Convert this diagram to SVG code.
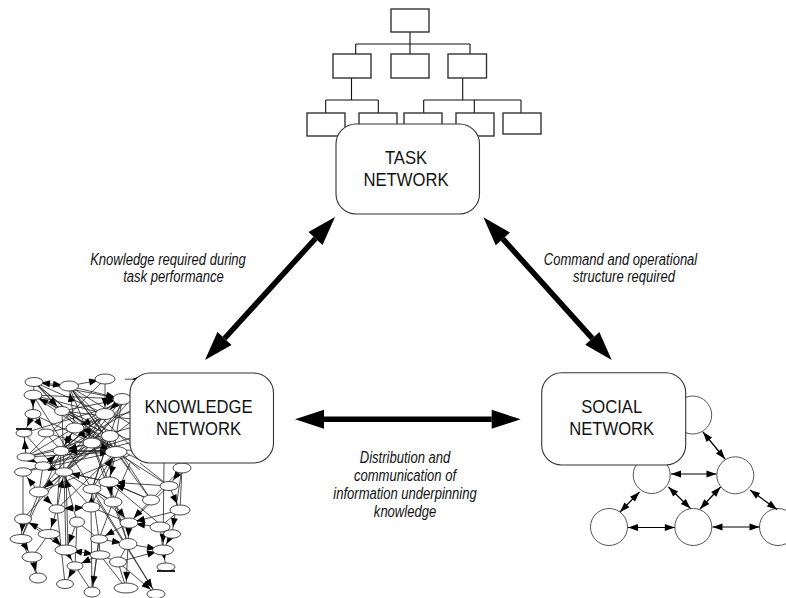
<svg xmlns="http://www.w3.org/2000/svg" width="786" height="598" viewBox="0 0 786 598">
  <defs>
    <style>
      .bg { fill: #ffffff; }
      .tb { fill: #ffffff; stroke: #333; stroke-width: 1.4; }
      .tl { fill: none; stroke: #111; stroke-width: 1.1; }
      .kl { fill: none; stroke: #222; stroke-width: 0.8; }
      .ke { marker-end: url(#ka); }
      .kb { marker-start: url(#ka); marker-end: url(#ka); }
      .ko { fill: #ffffff; stroke: #333; stroke-width: 0.9; }
      .kbar { stroke: #222; stroke-width: 2; }
      .sc { fill: #ffffff; stroke: #555; stroke-width: 1; }
      .sa { fill: none; stroke: #000; stroke-width: 1.2; marker-start: url(#sh); marker-end: url(#sh); }
      .node { fill: #ffffff; stroke: #333; stroke-width: 1.1; }
      .nt { font-family: "Liberation Sans", Arial, sans-serif; font-size: 18.5px; fill: #111; text-anchor: middle; }
      .lb { font-family: "Liberation Sans", Arial, sans-serif; font-size: 16.5px; font-style: italic; fill: #111; text-anchor: middle; }
      .big { fill: none; stroke: #000; stroke-width: 5.5; marker-start: url(#bh); marker-end: url(#bh); }
    </style>
    <!-- heavy head for the main links -->
    <marker id="bh" markerUnits="userSpaceOnUse" markerWidth="30" markerHeight="20" refX="0" refY="9.5" orient="auto-start-reverse" overflow="visible">
      <path d="M0,0 L29,9.5 L0,19 z" fill="#000"/>
    </marker>
    <!-- small head for the social graph -->
    <marker id="sh" markerUnits="userSpaceOnUse" markerWidth="11" markerHeight="8" refX="10" refY="3.5" orient="auto-start-reverse" overflow="visible">
      <path d="M0,0 L10,3.5 L0,7 z" fill="#000"/>
    </marker>
    <!-- head for the knowledge graph, tip set back from the ellipse centre -->
    <marker id="ka" markerUnits="userSpaceOnUse" markerWidth="10" markerHeight="8" refX="16" refY="3.5" orient="auto-start-reverse" overflow="visible">
      <path d="M0,0 L9,3.5 L0,7 z" fill="#000"/>
    </marker>
  </defs>

  <rect class="bg" x="0" y="0" width="786" height="598"/>

  <!-- organisation chart above the task node -->
  <g id="task-tree">
    <path class="tl" d="M410 32V44 M355.7 44H470 M355.7 44V54 M410 44V54 M470 44V54
                        M351.5 78V100 M325.7 100H378.3 M325.7 100V113 M378.3 100V113
                        M462.7 78V100 M423.7 100H521 M423.7 100V113 M474.3 100V113 M521 100V113"/>
    <rect class="tb" x="391" y="9" width="38" height="23"/>
    <rect class="tb" x="333" y="54" width="38" height="24"/>
    <rect class="tb" x="391" y="54" width="38" height="24"/>
    <rect class="tb" x="448" y="54" width="38.5" height="24"/>
    <rect class="tb" x="307" y="113" width="38" height="23"/>
    <rect class="tb" x="359" y="113" width="38" height="23"/>
    <rect class="tb" x="404" y="113" width="38" height="23"/>
    <rect class="tb" x="456" y="113" width="38" height="23"/>
    <rect class="tb" x="503" y="113" width="38" height="21"/>
  </g>

  <!-- semantic network beside the knowledge node -->
  <g id="knowledge-graph">
    <path class="kl" d="M34 382L122 399 M34 382L105 414 M34 382L92 443 M34 382L116 452
      M69 386L110 436 M69 386L116 452 M69 386L92 443 M69 386L140 430 M69 386L140 455
      M33 395L105 414 M33 395L110 436 M33 395L116 452 M33 395L140 445
      M62 411L110 436 M62 411L116 452 M62 411L140 420 M75 428L116 452 M33 414L92 443
      M46 433L116 452 M61 451L105 414 M61 451L140 405 M26 457L122 399 M26 457L105 379
      M26 457L140 425 M43 466L122 399 M43 466L110 436 M43 466L140 440 M64 472L122 399
      M64 472L105 414 M64 472L140 390 M39 492L110 436 M39 492L140 415 M92 489L122 399
      M24 433L26 457 M46 433L61 451 M23 472L116 452 M34 382L33 414 M62 411L64 472
      M34 382L140 470 M69 386L130 470 M24 433L140 398 M46 433L140 410 M23 472L140 435
      M39 492L130 455 M61 451L140 450 M75 428L140 460 M92 443L140 382 M26 457L92 443
      M43 466L105 414 M57 509L116 452 M91 507L116 452 M92 489L110 436 M109 482L122 399
      M39 492L105 414 M23 519L92 443 M21 539L61 451 M33 395L92 489 M24 433L91 507
      M64 472L66 550 M66 472L68 548 M64 472L109 482 M64 472L113 502 M43 466L39 492
      M23 472L23 519 M39 492L21 539 M92 489L113 502 M92 489L129 523 M92 489L156 594
      M57 509L65 584 M91 507L129 523 M91 507L92 592 M23 519L66 550 M77 522L75 566
      M49 534L32 557 M75 566L92 592 M109 482L151 500 M109 482L128 544 M169 486L129 523
      M182 468L180 510 M180 510L160 527 M160 527L163 550 M99 539L100 555 M128 544L118 562
      M100 555L126 588 M92 443L109 482 M116 452L151 500 M116 452L169 486 M110 436L151 500
      M99 539L92 592 M92 443L128 544 M61 451L57 509 M92 489L99 539 M151 500L182 468
      M140 463L169 486 M130 463L113 502 M118 562L126 588 M21 539L38 578 M100 555L118 562
      M113 502L99 539 M77 522L99 539 M49 534L66 550 M109 482L172 534"/>
    <line class="kl kb" x1="34" y1="382" x2="69" y2="386"/>
    <line class="kl ke" x1="33" y1="395" x2="33" y2="414"/>
    <line class="kl ke" x1="62" y1="411" x2="33" y2="395"/>
    <line class="kl ke" x1="69" y1="386" x2="105" y2="379"/>
    <line class="kl ke" x1="75" y1="428" x2="69" y2="386"/>
    <line class="kl ke" x1="34" y1="382" x2="62" y2="411"/>
    <line class="kl ke" x1="69" y1="386" x2="122" y2="399"/>
    <line class="kl ke" x1="33" y1="395" x2="122" y2="399"/>
    <line class="kl ke" x1="62" y1="411" x2="122" y2="399"/>
    <line class="kl ke" x1="105" y1="414" x2="75" y2="428"/>
    <line class="kl ke" x1="61" y1="451" x2="75" y2="428"/>
    <line class="kl ke" x1="33" y1="414" x2="24" y2="433"/>
    <line class="kl ke" x1="33" y1="414" x2="46" y2="433"/>
    <line class="kl ke" x1="75" y1="428" x2="61" y2="451"/>
    <line class="kl ke" x1="75" y1="428" x2="92" y2="443"/>
    <line class="kl ke" x1="92" y1="443" x2="116" y2="452"/>
    <line class="kl ke" x1="43" y1="466" x2="64" y2="472"/>
    <line class="kl ke" x1="26" y1="457" x2="43" y2="466"/>
    <line class="kl ke" x1="105" y1="379" x2="105" y2="414"/>
    <line class="kl ke" x1="26" y1="457" x2="116" y2="452"/>
    <line class="kl ke" x1="140" y1="379" x2="125" y2="379.3"/>
    <line class="kl ke" x1="122" y1="399" x2="105" y2="414"/>
    <line class="kl ke" x1="110" y1="436" x2="75" y2="428"/>
    <line class="kl ke" x1="92" y1="443" x2="61" y2="451"/>
    <line class="kl ke" x1="116" y1="452" x2="61" y2="451"/>
    <line class="kl ke" x1="26" y1="457" x2="24" y2="433"/>
    <line class="kl ke" x1="43" y1="466" x2="61" y2="451"/>
    <line class="kl ke" x1="92" y1="489" x2="116" y2="452"/>
    <line class="kl ke" x1="39" y1="492" x2="23" y2="472"/>
    <line class="kl ke" x1="77" y1="522" x2="64" y2="472"/>
    <line class="kl ke" x1="57" y1="509" x2="64" y2="472"/>
    <line class="kl ke" x1="109" y1="482" x2="64" y2="472"/>
    <line class="kl ke" x1="64" y1="472" x2="39" y2="492"/>
    <line class="kl kb" x1="57" y1="509" x2="91" y2="507"/>
    <line class="kl ke" x1="57" y1="509" x2="49" y2="534"/>
    <line class="kl ke" x1="23" y1="519" x2="21" y2="539"/>
    <line class="kl ke" x1="77" y1="522" x2="66" y2="550"/>
    <line class="kl ke" x1="66" y1="550" x2="75" y2="566"/>
    <line class="kl kb" x1="66" y1="550" x2="100" y2="555"/>
    <line class="kl ke" x1="21" y1="539" x2="32" y2="557"/>
    <line class="kl ke" x1="32" y1="557" x2="38" y2="578"/>
    <line class="kl ke" x1="75" y1="566" x2="65" y2="584"/>
    <line class="kl ke" x1="99" y1="539" x2="92" y2="592"/>
    <line class="kl ke" x1="116" y1="452" x2="109" y2="482"/>
    <line class="kl ke" x1="109" y1="482" x2="113" y2="502"/>
    <line class="kl ke" x1="151" y1="500" x2="129" y2="523"/>
    <line class="kl ke" x1="113" y1="502" x2="129" y2="523"/>
    <line class="kl ke" x1="180" y1="510" x2="129" y2="523"/>
    <line class="kl ke" x1="160" y1="527" x2="129" y2="523"/>
    <line class="kl ke" x1="129" y1="523" x2="99" y2="539"/>
    <line class="kl ke" x1="129" y1="523" x2="128" y2="544"/>
    <line class="kl ke" x1="151" y1="500" x2="109" y2="482"/>
    <line class="kl ke" x1="164" y1="463" x2="163" y2="550"/>
    <line class="kl ke" x1="172" y1="534" x2="163" y2="550"/>
    <line class="kl ke" x1="128" y1="544" x2="163" y2="550"/>
    <line class="kl ke" x1="118" y1="562" x2="163" y2="550"/>
    <line class="kl ke" x1="163" y1="550" x2="166" y2="567"/>
    <line class="kl ke" x1="128" y1="544" x2="126" y2="588"/>
    <line class="kl ke" x1="118" y1="562" x2="156" y2="594"/>
    <line class="kl ke" x1="169" y1="486" x2="180" y2="510"/>
    <line class="kl ke" x1="182" y1="468" x2="169" y2="486"/>
    <line class="kl ke" x1="39" y1="492" x2="57" y2="509"/>
    <line class="kl ke" x1="49" y1="534" x2="23" y2="519"/>
    <line class="kl ke" x1="91" y1="507" x2="92" y2="489"/>
    <line class="kl ke" x1="49" y1="534" x2="66" y2="550"/>
    <line class="kl ke" x1="100" y1="555" x2="75" y2="566"/>
    <line class="kl ke" x1="99" y1="539" x2="128" y2="544"/>
    <line class="kl ke" x1="182" y1="468" x2="172" y2="534"/>
    <line class="kl ke" x1="169" y1="486" x2="109" y2="482"/>
    <line class="kl ke" x1="97" y1="500" x2="156" y2="594"/>

    <ellipse class="ko" cx="34" cy="382" rx="9" ry="4.5"/>
    <ellipse class="ko" cx="69" cy="386" rx="9.5" ry="5"/>
    <ellipse class="ko" cx="105" cy="379" rx="10" ry="5"/>
    <ellipse class="ko" cx="33" cy="395" rx="9" ry="4.8"/>
    <ellipse class="ko" cx="33" cy="414" rx="8" ry="4.5"/>
    <ellipse class="ko" cx="62" cy="411" rx="7.5" ry="4.5"/>
    <ellipse class="ko" cx="24" cy="433" rx="8" ry="4"/>
    <ellipse class="ko" cx="46" cy="433" rx="8" ry="4"/>
    <ellipse class="ko" cx="75" cy="428" rx="9" ry="5"/>
    <ellipse class="ko" cx="92" cy="443" rx="9" ry="5"/>
    <ellipse class="ko" cx="61" cy="451" rx="8" ry="4.5"/>
    <ellipse class="ko" cx="26" cy="457" rx="9" ry="4"/>
    <ellipse class="ko" cx="122" cy="399" rx="9" ry="5.5"/>
    <ellipse class="ko" cx="105" cy="414" rx="9.5" ry="5.5"/>
    <ellipse class="ko" cx="110" cy="436" rx="8.5" ry="5.5"/>
    <ellipse class="ko" cx="116" cy="452" rx="11" ry="5.5"/>
    <ellipse class="ko" cx="43" cy="466" rx="8" ry="4.2"/>
    <ellipse class="ko" cx="23" cy="472" rx="8.5" ry="4.2"/>
    <ellipse class="ko" cx="64" cy="472" rx="9" ry="4.2"/>
    <ellipse class="ko" cx="39" cy="492" rx="9.5" ry="5"/>
    <ellipse class="ko" cx="92" cy="489" rx="9" ry="4.5"/>
    <ellipse class="ko" cx="57" cy="509" rx="8" ry="4.2"/>
    <ellipse class="ko" cx="91" cy="507" rx="9" ry="5"/>
    <ellipse class="ko" cx="23" cy="519" rx="8.5" ry="5"/>
    <ellipse class="ko" cx="77" cy="522" rx="7.5" ry="5"/>
    <ellipse class="ko" cx="21" cy="539" rx="11" ry="4.5"/>
    <ellipse class="ko" cx="49" cy="534" rx="11" ry="4.5"/>
    <ellipse class="ko" cx="66" cy="550" rx="11" ry="5"/>
    <ellipse class="ko" cx="32" cy="557" rx="10" ry="5"/>
    <ellipse class="ko" cx="75" cy="566" rx="8" ry="4.2"/>
    <ellipse class="ko" cx="38" cy="578" rx="8.5" ry="5"/>
    <ellipse class="ko" cx="65" cy="584" rx="8.5" ry="4.5"/>
    <ellipse class="ko" cx="92" cy="592" rx="8" ry="5"/>
    <ellipse class="ko" cx="109" cy="482" rx="10" ry="5"/>
    <ellipse class="ko" cx="169" cy="486" rx="9" ry="4.5"/>
    <ellipse class="ko" cx="182" cy="468" rx="9" ry="5"/>
    <ellipse class="ko" cx="113" cy="502" rx="9" ry="5"/>
    <ellipse class="ko" cx="151" cy="500" rx="8.5" ry="5"/>
    <ellipse class="ko" cx="180" cy="510" rx="10" ry="5"/>
    <ellipse class="ko" cx="129" cy="523" rx="9" ry="5"/>
    <ellipse class="ko" cx="160" cy="527" rx="10" ry="5"/>
    <ellipse class="ko" cx="172" cy="534" rx="8.5" ry="4.2"/>
    <ellipse class="ko" cx="99" cy="539" rx="8.5" ry="4.2"/>
    <ellipse class="ko" cx="128" cy="544" rx="9" ry="5.5"/>
    <ellipse class="ko" cx="163" cy="550" rx="10.5" ry="5"/>
    <ellipse class="ko" cx="100" cy="555" rx="10" ry="4.2"/>
    <ellipse class="ko" cx="118" cy="562" rx="8.5" ry="5"/>
    <ellipse class="ko" cx="166" cy="567" rx="9" ry="4"/>
    <ellipse class="ko" cx="126" cy="588" rx="12" ry="5"/>
    <ellipse class="ko" cx="156" cy="594" rx="9" ry="4.5"/>
    <path class="kbar" d="M16 429H32 M157 571H175"/>
  </g>

  <!-- social graph beside the social node -->
  <g id="social-graph">
    <circle class="sc" cx="692.7" cy="415" r="19"/>
    <circle class="sc" cx="735.3" cy="475.3" r="18.5"/>
    <circle class="sc" cx="651.7" cy="475" r="18.5"/>
    <circle class="sc" cx="609" cy="527" r="18.5"/>
    <circle class="sc" cx="693.3" cy="527" r="18.5"/>
    <circle class="sc" cx="778" cy="527" r="18.5"/>
    <line class="sa" x1="703" y1="432" x2="725" y2="459"/>
    <line class="sa" x1="671" y1="474" x2="716.5" y2="474"/>
    <line class="sa" x1="639.5" y1="492" x2="620" y2="512"/>
    <line class="sa" x1="668.5" y1="487" x2="690.5" y2="508.5"/>
    <line class="sa" x1="720.5" y1="487" x2="700" y2="509"/>
    <line class="sa" x1="750" y1="490" x2="777" y2="509.5"/>
    <line class="sa" x1="628" y1="527.5" x2="674.8" y2="527.5"/>
    <line class="sa" x1="712.5" y1="527" x2="759.5" y2="527"/>
  </g>

  <g id="task-network">
    <rect class="node" x="336" y="124" width="143.5" height="90" rx="20"/>
    <g transform="translate(406,0) scale(0.9,1)">
      <text class="nt" x="0" y="164">TASK</text>
      <text class="nt" x="0" y="186">NETWORK</text>
    </g>
  </g>

  <g id="knowledge-network">
    <rect class="node" x="130" y="373" width="143.5" height="90" rx="20"/>
    <g transform="translate(198.5,0) scale(0.9,1)">
      <text class="nt" x="0" y="412.7">KNOWLEDGE</text>
      <text class="nt" x="0" y="435">NETWORK</text>
    </g>
  </g>

  <g id="social-network">
    <rect class="node" x="541.7" y="372.7" width="144" height="92.3" rx="20"/>
    <g transform="translate(611.7,0) scale(0.9,1)">
      <text class="nt" x="0" y="412.7">SOCIAL</text>
      <text class="nt" x="0" y="435.3">NETWORK</text>
    </g>
  </g>

  <g id="connectors">
    <line class="big" x1="224.5" y1="338.5" x2="315.5" y2="238.5"/>
    <line class="big" x1="502.8" y1="238.9" x2="592.3" y2="338.4"/>
    <line class="big" x1="324" y1="419.3" x2="491.7" y2="419.3"/>
  </g>

  <g id="link-labels">
    <g transform="translate(168,0) scale(0.79,1)">
      <text class="lb" x="0" y="265">Knowledge required during</text>
    </g>
    <g transform="translate(173.5,0) scale(0.79,1)">
      <text class="lb" x="0" y="281.7">task performance</text>
    </g>
    <g transform="translate(620.5,0) scale(0.79,1)">
      <text class="lb" x="0" y="265">Command and operational</text>
    </g>
    <g transform="translate(624,0) scale(0.79,1)">
      <text class="lb" x="0" y="281.7">structure required</text>
    </g>
    <g transform="translate(405,0) scale(0.79,1)">
      <text class="lb" x="0" y="463.5">Distribution and</text>
      <text class="lb" x="0" y="481.5">communication of</text>
      <text class="lb" x="0" y="499.5">information underpinning</text>
      <text class="lb" x="0" y="517">knowledge</text>
    </g>
  </g>
</svg>
